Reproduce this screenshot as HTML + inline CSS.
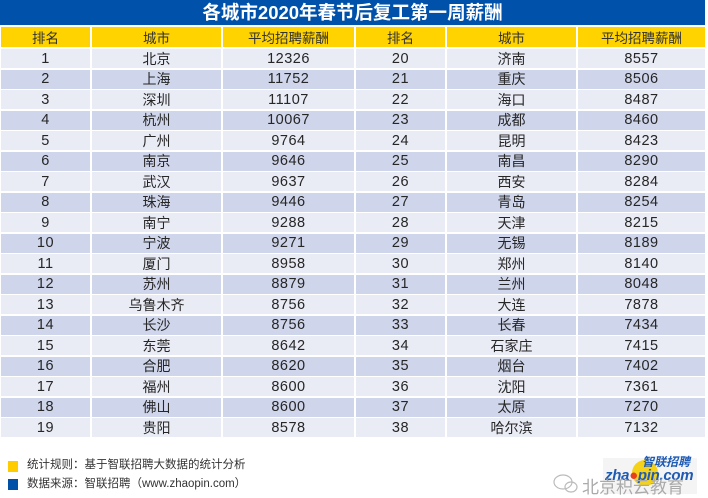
<!DOCTYPE html>
<html><head><meta charset="utf-8"><style>
*{margin:0;padding:0;box-sizing:border-box}
body{width:708px;height:494px;background:#fff;position:relative;overflow:hidden;font-family:"Liberation Sans","Noto Sans CJK SC",sans-serif;color:#262626}
.t{position:absolute;left:0;top:0;width:705px;height:25px;background:#0051A9;color:#fff;font-weight:bold;font-size:18.5px;line-height:25px;text-align:center;font-family:"Liberation Sans","Noto Sans CJK SC",sans-serif}
.c{position:absolute;text-align:center;font-size:14px;display:flex;align-items:center;justify-content:center}
.h{background:#FFD300;color:#333;font-size:13.5px}
.o{background:#E9EBF5}
.e{background:#CFD5EA}
.n{font-size:14.5px;letter-spacing:0.5px}
.lg{position:absolute;left:8px;width:10px;height:11px}
.lt{position:absolute;left:27px;font-size:11.5px;color:#333;line-height:14px;white-space:nowrap}
</style></head><body>
<div class="t">各城市2020年春节后复工第一周薪酬</div>
<div id="g"></div>
<div class="lg" style="top:461px;background:#FFCC00"></div>
<div class="lt" style="top:458px">统计规则：基于智联招聘大数据的统计分析</div>
<div class="lg" style="top:479px;background:#0050A8"></div>
<div class="lt" style="top:477px">数据来源：智联招聘（www.zhaopin.com）</div>
<div style="position:absolute;left:603px;top:458px;width:94px;height:36px;background:#f4f4f4"></div>
<div style="position:absolute;left:632px;top:460px;width:26px;height:26px;border-radius:50%;background:#F5D21A"></div>
<div style="position:absolute;left:642px;top:455px;font-size:12px;line-height:14px;font-weight:bold;font-style:italic;color:#1E5BB5;white-space:nowrap">智联招聘</div>
<div style="position:absolute;left:605px;top:467px;font-size:15px;line-height:17px;font-weight:bold;font-style:italic;color:#1E5BB5;white-space:nowrap;letter-spacing:-0.3px">zha<span style="color:#E8401C">●</span>pin.com</div>
<svg style="position:absolute;left:552px;top:472px" width="26" height="22"><ellipse cx="11" cy="10" rx="9" ry="7" fill="none" stroke="#bbb" stroke-width="1.2"/><ellipse cx="19" cy="15" rx="6" ry="5" fill="none" stroke="#bbb" stroke-width="1.2"/></svg>
<div style="position:absolute;left:582px;top:478px;font-size:17px;color:#aaa;white-space:nowrap;line-height:20px">北京积云教育</div>
<script>
var d=[["1","北京","12326","20","济南","8557"],["2","上海","11752","21","重庆","8506"],["3","深圳","11107","22","海口","8487"],["4","杭州","10067","23","成都","8460"],["5","广州","9764","24","昆明","8423"],["6","南京","9646","25","南昌","8290"],["7","武汉","9637","26","西安","8284"],["8","珠海","9446","27","青岛","8254"],["9","南宁","9288","28","天津","8215"],["10","宁波","9271","29","无锡","8189"],["11","厦门","8958","30","郑州","8140"],["12","苏州","8879","31","兰州","8048"],["13","乌鲁木齐","8756","32","大连","7878"],["14","长沙","8756","33","长春","7434"],["15","东莞","8642","34","石家庄","7415"],["16","合肥","8620","35","烟台","7402"],["17","福州","8600","36","沈阳","7361"],["18","佛山","8600","37","太原","7270"],["19","贵阳","8578","38","哈尔滨","7132"]];
var xs=[[1,90],[92,221],[223,354],[356,445],[447,576],[578,705]];
var hd=["排名","城市","平均招聘薪酬","排名","城市","平均招聘薪酬"];
var h="";
for(var j=0;j<6;j++){h+='<div class="c h" style="left:'+xs[j][0]+'px;top:27px;width:'+(xs[j][1]-xs[j][0])+'px;height:20px">'+hd[j]+'</div>';}
for(var i=0;i<19;i++){var yy=47.5+i*20.5+1.5;var cls=i%2==0?"o":"e";
for(var j=0;j<6;j++){var isn=(j==0||j==2||j==3||j==5);h+='<div class="c '+cls+(isn?' n':'')+'" style="left:'+xs[j][0]+'px;top:'+yy+'px;width:'+(xs[j][1]-xs[j][0])+'px;height:19px">'+d[i][j]+'</div>';}}
document.getElementById("g").innerHTML=h;
</script>
</body></html>
